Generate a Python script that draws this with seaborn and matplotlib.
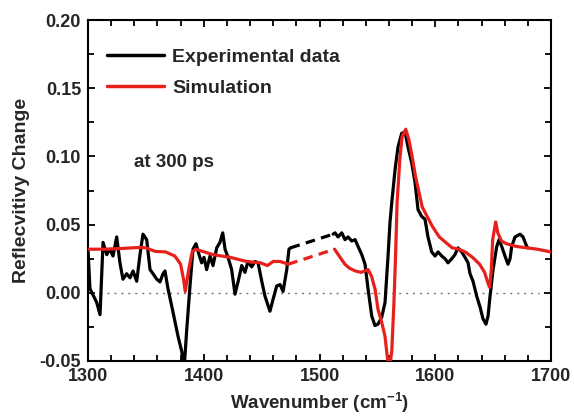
import numpy as np
import pandas as pd
import matplotlib
matplotlib.use("Agg")
import matplotlib.pyplot as plt
from matplotlib.ticker import MultipleLocator
import seaborn as sns

# Measured reflectivity change, low- and high-wavenumber windows
exp_wn_a = [1300, 1301.7, 1307.5, 1310.4, 1313, 1316.2, 1319, 1321.6, 1324.8, 1327.6,
            1330.2, 1333.4, 1336.3, 1338.9, 1342.1, 1344.9, 1347.5, 1350.7, 1353.6, 1356.2,
            1359.4, 1362.2, 1364.8, 1366.5, 1369.1, 1373.4, 1377.8, 1381, 1383, 1385.3,
            1388.1, 1390.7, 1393.3, 1395.9, 1398.2, 1400.2, 1402.5, 1405.4, 1408, 1411.2,
            1414, 1416.4, 1418.4, 1421, 1424.1, 1427, 1429.6, 1432.8, 1435.6, 1438.2,
            1441.4, 1444.3, 1446.9, 1450.1, 1452.9, 1457.2, 1459.8, 1463, 1465.9, 1468.5,
            1471.7, 1473.6, 1475]
exp_val_a = [0.032, 0.003, -0.007, -0.016, 0.037, 0.028, 0.032, 0.027, 0.041, 0.022,
             0.010, 0.014, 0.011, 0.016, 0.0085, 0.028, 0.043, 0.039, 0.017, 0.014,
             0.010, 0.008, 0.014, 0.016, 0.003, -0.014, -0.032, -0.043, -0.056, -0.027,
             0.005, 0.032, 0.036, 0.028, 0.022, 0.026, 0.017, 0.027, 0.020, 0.033,
             0.037, 0.044, 0.032, 0.026, 0.017, -0.001, 0.008, 0.020, 0.015, 0.023,
             0.019, 0.023, 0.022, 0.0085, -0.0025, -0.0135, -0.005, 0.005, 0.006, 0.001,
             0.017, 0.032, 0.033]

exp_wn_b = [1511.7, 1513.4, 1516, 1519.2, 1522, 1524.6, 1527.8, 1530.7, 1533.3, 1536.5,
            1539.3, 1541.9, 1545.1, 1547.9, 1550.5, 1553.7, 1556.6, 1559.2, 1560.9, 1562.4,
            1565.2, 1567.8, 1571, 1573.9, 1576.4, 1579.6, 1582.5, 1585.1, 1588.3, 1591.1,
            1593.7, 1596.9, 1599.8, 1602.4, 1605.6, 1608.4, 1611, 1614.2, 1617, 1619.6,
            1622.8, 1625.7, 1628.3, 1630, 1632.6, 1635.8, 1638.7, 1641.2, 1643.8, 1645.6,
            1647.3, 1649.9, 1653.1, 1655.1, 1657.4, 1660.2, 1662.8, 1664.6, 1666, 1668.9,
            1673.2, 1675.8, 1679, 1680]
exp_val_b = [0.043, 0.044, 0.041, 0.044, 0.039, 0.041, 0.038, 0.039, 0.034, 0.028,
             0.021, 0.003, -0.017, -0.024, -0.023, -0.018, -0.007, 0.027, 0.052, 0.066,
             0.090, 0.107, 0.117, 0.118, 0.107, 0.0955, 0.081, 0.061, 0.056, 0.054,
             0.041, 0.030, 0.027, 0.030, 0.027, 0.025, 0.022, 0.025, 0.028, 0.033,
             0.030, 0.026, 0.022, 0.014, 0.0085, -0.0025, -0.0105, -0.019, -0.023, -0.017,
             -0.0025, 0.017, 0.034, 0.039, 0.034, 0.027, 0.021, 0.025, 0.034, 0.041,
             0.043, 0.041, 0.034, 0.033]

# Simulated spectrum on the same windows
sim_wn_a = [1300, 1315, 1330, 1345, 1350, 1358, 1367, 1375, 1380, 1382.5,
            1384, 1387, 1390, 1393, 1408, 1423, 1437, 1449, 1455, 1460,
            1466, 1473]
sim_val_a = [0.032, 0.032, 0.0326, 0.0333, 0.033, 0.0304, 0.030, 0.027, 0.021, 0.010,
             0.001, 0.017, 0.030, 0.032, 0.028, 0.026, 0.023, 0.022, 0.020, 0.023,
             0.023, 0.021]

sim_wn_b = [1513, 1517, 1522, 1526, 1531, 1536, 1542, 1545, 1548, 1550.5,
            1553.7, 1556.6, 1558.4, 1560, 1562.4, 1564.3, 1565.8, 1567, 1569.4, 1571.3,
            1574.5, 1577.3, 1580, 1583, 1586, 1588.7, 1593, 1597.3, 1603.4, 1609,
            1614.6, 1620.6, 1626.4, 1632.2, 1638.3, 1642.6, 1645.2, 1647, 1648.4, 1649.6,
            1652.2, 1654, 1657.2, 1661.5, 1670, 1679, 1688, 1700]
sim_val_b = [0.032, 0.027, 0.0209, 0.018, 0.016, 0.015, 0.017, 0.012, 0.0026, -0.012,
             -0.0215, -0.032, -0.046, -0.058, -0.043, -0.007, 0.030, 0.066, 0.098, 0.1145,
             0.120, 0.112, 0.100, 0.085, 0.0735, 0.063, 0.056, 0.049, 0.041, 0.037,
             0.033, 0.032, 0.0297, 0.026, 0.021, 0.015, 0.008, 0.004, 0.017, 0.039,
             0.052, 0.044, 0.038, 0.036, 0.034, 0.033, 0.032, 0.030]

x_ticks = [1300, 1400, 1500, 1600, 1700]
y_ticks = [-0.05, 0.00, 0.05, 0.10, 0.15, 0.20]

sns.set_theme(style="ticks")
plt.rcParams["font.family"] = ["Liberation Sans", "DejaVu Sans"]
plt.rcParams["font.weight"] = "bold"
plt.rcParams["mathtext.fontset"] = "custom"
plt.rcParams["mathtext.rm"] = "Liberation Sans:bold"
plt.rcParams["mathtext.default"] = "rm"

fig = plt.figure(figsize=(5.74, 4.2), dpi=100)
ax = fig.add_axes([0.1533, 0.1405, 0.8067, 0.8115])

BLACK = "#000000"
RED = "#e8201c"
LW = 2.3

def seg(wn, val):
    return pd.DataFrame({"wn": wn, "val": val})

# zero reference
ax.plot([1310, 1690], [0, 0], color="#777777", lw=1.0, ls=(0, (1.5, 3.5)), zorder=1)

sns.lineplot(data=seg(exp_wn_a, exp_val_a), x="wn", y="val", ax=ax, color=BLACK,
             lw=LW, sort=False, estimator=None, label="Experimental data", zorder=3)
sns.lineplot(data=seg(exp_wn_b, exp_val_b), x="wn", y="val", ax=ax, color=BLACK,
             lw=LW, sort=False, estimator=None, zorder=3)
sns.lineplot(data=seg([exp_wn_a[-1], exp_wn_b[0]], [exp_val_a[-1], exp_val_b[0]]),
             x="wn", y="val", ax=ax, color=BLACK, lw=LW, ls=(0, (3, 2)),
             sort=False, estimator=None, zorder=3)

sns.lineplot(data=seg(sim_wn_a, sim_val_a), x="wn", y="val", ax=ax, color=RED,
             lw=LW, sort=False, estimator=None, label="Simulation", zorder=4)
sns.lineplot(data=seg(sim_wn_b, sim_val_b), x="wn", y="val", ax=ax, color=RED,
             lw=LW, sort=False, estimator=None, zorder=4)
sns.lineplot(data=seg([sim_wn_a[-1], sim_wn_b[0]], [sim_val_a[-1], sim_val_b[0]]),
             x="wn", y="val", ax=ax, color=RED, lw=LW, ls=(0, (3, 2)),
             sort=False, estimator=None, zorder=4)

ax.set_xlim(1300, 1700)
ax.set_ylim(-0.05, 0.20)
ax.set_xticks(x_ticks)
ax.set_yticks(y_ticks)
ax.set_xticklabels([str(t) for t in x_ticks], fontsize=13, fontweight="bold")
ax.set_yticklabels([f"{t:.2f}" for t in y_ticks], fontsize=13, fontweight="bold")
ax.xaxis.set_minor_locator(MultipleLocator(20))
ax.yaxis.set_minor_locator(MultipleLocator(0.025))
ax.tick_params(which="both", direction="in", top=True, right=True, width=1.3, color="black")
ax.tick_params(which="major", length=5, pad=5)
ax.tick_params(which="minor", length=4)
for s in ax.spines.values():
    s.set_linewidth(1.5)
    s.set_color("black")

ax.set_xlabel("Wavenumber (cm$^{-1}$)", fontsize=13.5, fontweight="bold", labelpad=4)
ax.set_ylabel("Reflecvitivy Change", fontsize=14, fontweight="bold", labelpad=7)

ax.text(1340, 0.0955, "at 300 ps", fontsize=13.5, fontweight="bold", va="center")

leg = ax.legend(loc="upper left", bbox_to_anchor=(0.041, 0.918), frameon=False,
                borderpad=0, borderaxespad=0,
                handlelength=2.95, handletextpad=0.4, labelspacing=0.7,
                prop={"size": 14, "weight": "bold"})
for h in leg.get_lines():
    h.set_linewidth(2.5)

fig.savefig("out.png", dpi=100)
